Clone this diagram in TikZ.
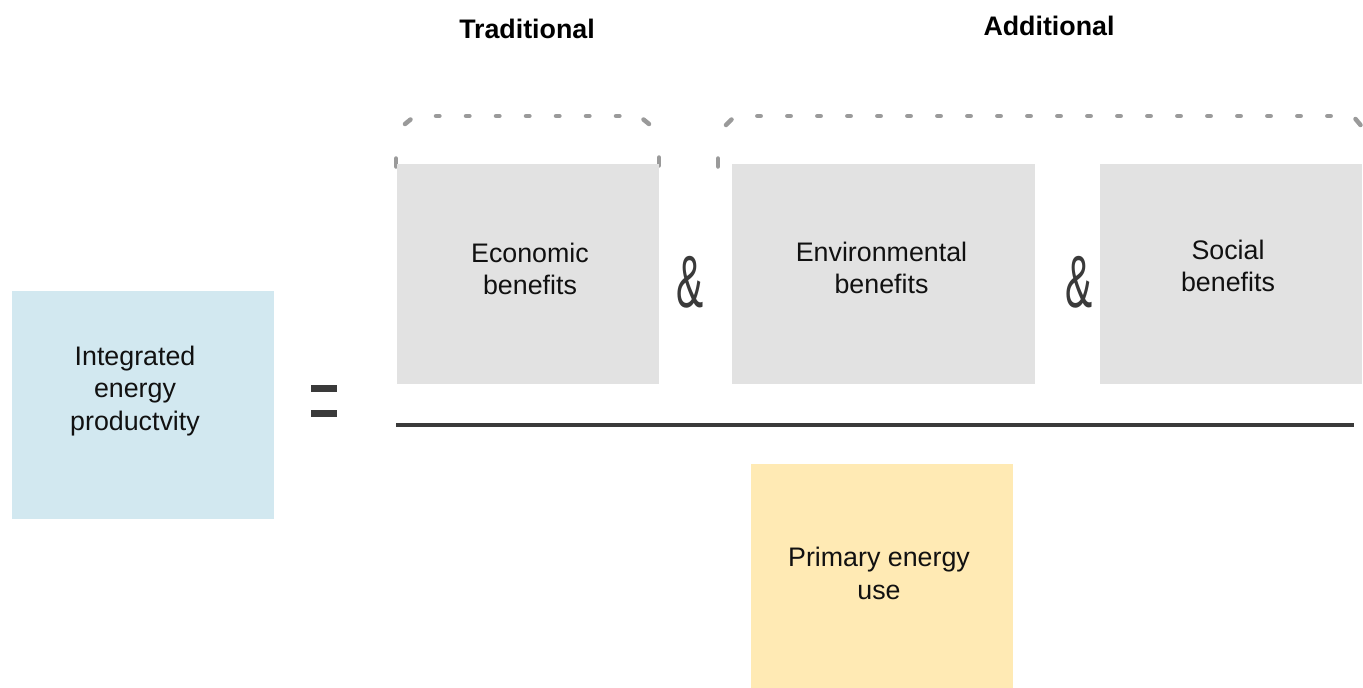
\documentclass[tikz,border=0pt]{standalone}
\usepackage{fontspec}
\setmainfont{Liberation Sans}
\definecolor{boxgray}{HTML}{E2E2E2}
\definecolor{boxblue}{HTML}{D2E8F0}
\definecolor{boxyellow}{HTML}{FFEAB4}
\definecolor{inkdark}{HTML}{3A3A3A}
\definecolor{bracegray}{HTML}{9A9A9A}
\definecolor{textdark}{HTML}{111111}
\tikzset{
  box/.style={rectangle, draw=none, inner sep=0pt, outer sep=0pt},
  boxtext/.style={align=center, inner sep=0pt, text=textdark,
    font=\fontsize{26.8}{32.5}\selectfont},
  headtext/.style={inner sep=0pt, text=black,
    font=\fontsize{26.8}{32.5}\selectfont\bfseries},
  ampsign/.style={inner sep=0pt, text=inkdark,
    font=\fontsize{74}{74}\selectfont},
  bracepart/.style={draw=bracegray, line width=4.5pt, line cap=round},
  bracedash/.style={bracepart, dash pattern=on 3.4pt off 26.6pt},
  fracbar/.style={draw=inkdark, line width=4pt}
}
\begin{document}
\begin{tikzpicture}[x=1pt,y=-1pt]
\clip (0,0) rectangle (1363,688);
\fill[white] (0,0) rectangle (1363,688);

% column headings
\node[headtext] (trad) at (527,28.5) {Traditional};
\node[headtext] (addl) at (1049,25.5) {Additional};

% dashed brace over the traditional benefits
\draw[bracepart] (396,158.5) -- (396,166.5);
\draw[bracepart] (659,157.5) -- (659,165.5);
\draw[bracepart] (405,124) -- (410.5,119.5);
\draw[bracepart] (643.5,119.5) -- (649,124);
\draw[bracedash] (436,116) -- (621,116);

% dashed brace over the additional benefits
\draw[bracepart] (718,158.5) -- (718,166.5);
\draw[bracepart] (726,125) -- (731.5,119.5);
\draw[bracedash] (757.3,116) -- (1332,116);
\draw[bracepart] (1355.5,119) -- (1360.5,125);

% numerator boxes
\node[box, fill=boxgray, minimum width=262pt, minimum height=220pt] (econ) at (528,274) {};
\node[box, fill=boxgray, minimum width=303pt, minimum height=220pt] (env) at (883.5,274) {};
\node[box, fill=boxgray, minimum width=262pt, minimum height=220pt] (soc) at (1231,274) {};
\node[boxtext] (econtxt) at (530,269) {Economic\\benefits};
\node[boxtext] (envtxt) at (881.5,268) {Environmental\\benefits};
\node[boxtext] (soctxt) at (1228,266) {Social\\benefits};

% ampersands between the boxes
\node[ampsign] (amp1) at (690,282) {\scalebox{0.55}[1]{\&}};
\node[ampsign] (amp2) at (1079.5,282) {\scalebox{0.55}[1]{\&}};

% left-hand side
\node[box, fill=boxblue, minimum width=262pt, minimum height=228pt] (iep) at (143,405) {};
\node[boxtext] (ieptxt) at (135,391) {Integrated\\energy\\productvity};

% equals sign
\fill[inkdark] (311,385) rectangle (337,392);
\fill[inkdark] (311,410) rectangle (337,417);

% fraction bar
\coordinate (barL) at (396,425);
\coordinate (barR) at (1354,425);
\draw[fracbar] (barL) -- (barR);

% denominator
\node[box, fill=boxyellow, minimum width=262pt, minimum height=228pt] (peu) at (882,578) {};
\node[boxtext] (peutxt) at (879,573.4) {Primary energy\\use};
\end{tikzpicture}
\end{document}
